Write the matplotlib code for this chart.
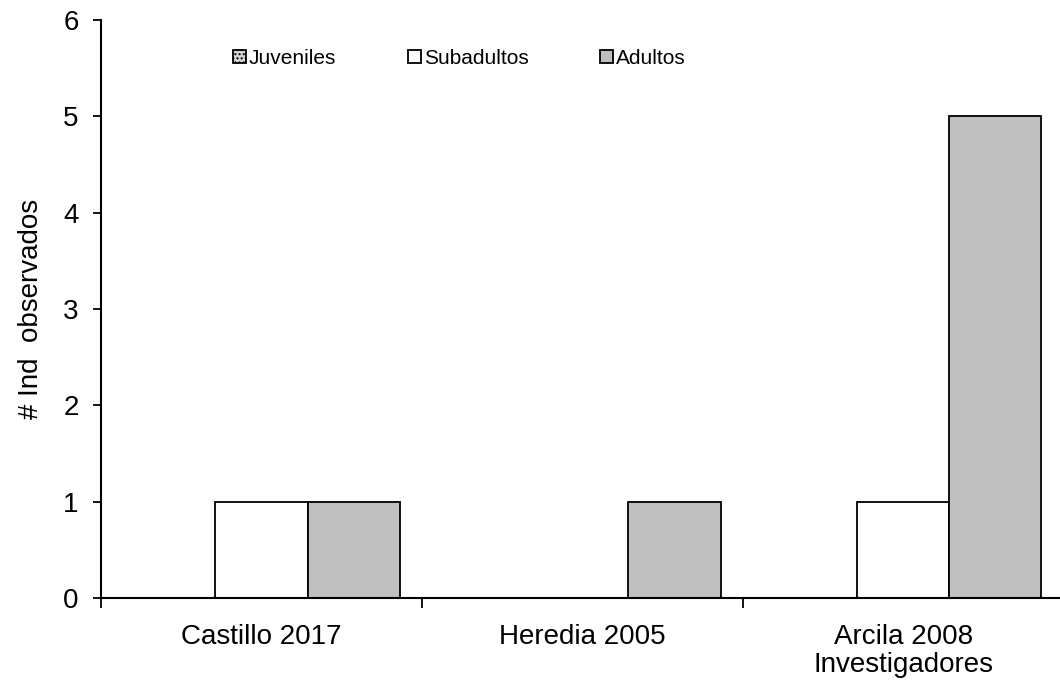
import matplotlib
matplotlib.use("Agg")
import matplotlib.pyplot as plt
import numpy as np

plt.rcParams['font.family'] = ['Liberation Sans', 'DejaVu Sans']

categories = ["Castillo 2017", "Heredia 2005", "Arcila 2008\nInvestigadores"]
series_names = ["Juveniles", "Subadultos", "Adultos"]
juveniles = [0, 0, 0]
subadultos = [1, 0, 1]
adultos = [1, 1, 5]

fig = plt.figure(figsize=(10.6, 6.83), dpi=100)
ax = fig.add_axes([0.0953, 0.1245, 0.908, 0.8462])

x = np.arange(len(categories))
w = 0.2875
styles = [
    dict(facecolor="#d8d8d8", hatch="....", edgecolor="black"),
    dict(facecolor="white", edgecolor="black"),
    dict(facecolor="#c0c0c0", edgecolor="black"),
]
for i, (vals, name, st) in enumerate(zip([juveniles, subadultos, adultos], series_names, styles)):
    ax.bar(x + (i - 1) * w, vals, w, label=name, linewidth=1.3, **st)

ax.set_xlim(-0.5, len(categories) - 0.5)
ax.set_ylim(0, 6)
ax.set_yticks(range(0, 7))
ax.set_xticks(np.arange(-0.5, len(categories), 1.0), minor=False)
ax.set_xticklabels([])
ax.set_xticks(x, minor=True)
ax.set_xticklabels(categories, minor=True, fontsize=20, linespacing=1.08)
ax.tick_params(axis='x', which='minor', length=0, pad=19)
ax.tick_params(axis='x', which='major', length=7, width=1.3, direction='out')
ax.tick_params(axis='y', length=6, width=1.3, direction='out', labelsize=20, pad=10)
for s in ["top", "right"]:
    ax.spines[s].set_visible(False)
for s in ["left", "bottom"]:
    ax.spines[s].set_linewidth(1.5)
ax.set_ylabel("# Ind  observados", fontsize=20, labelpad=14)

leg = ax.legend(loc="upper left", bbox_to_anchor=(0.118, 0.982), ncol=3, frameon=False,
                fontsize=15, handlelength=0.6, handleheight=0.6, handletextpad=0.15,
                columnspacing=3.45)

fig.savefig("out.png", dpi=100)
